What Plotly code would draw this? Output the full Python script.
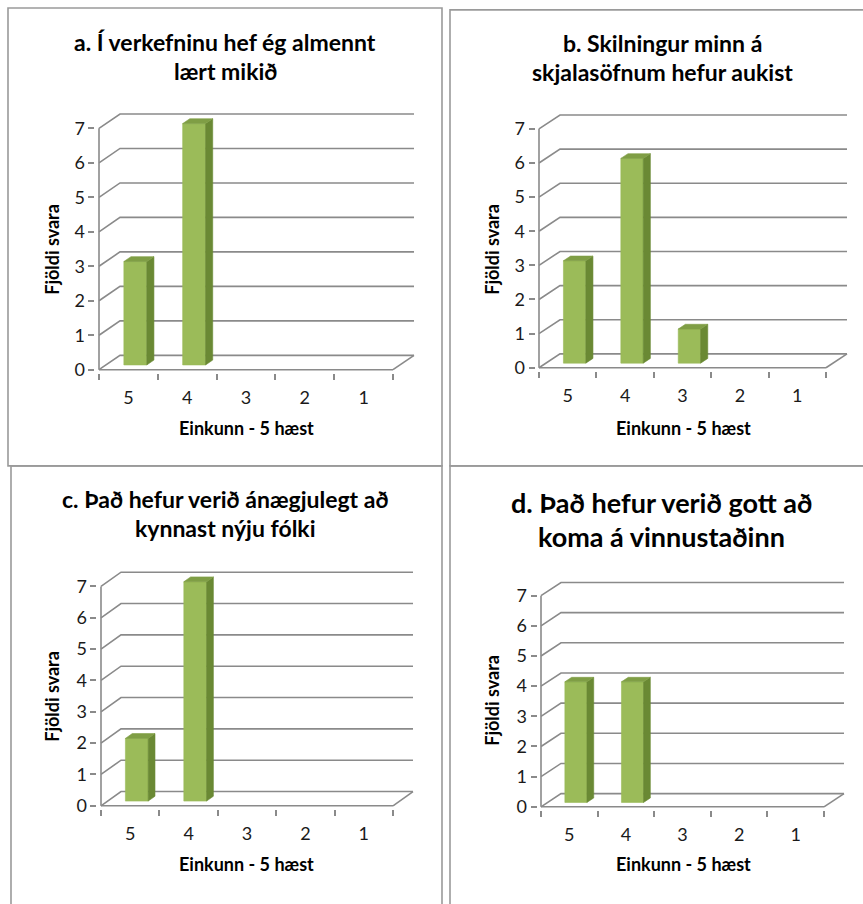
import plotly.graph_objects as go

# ---------------- data ----------------
categories = ["5", "4", "3", "2", "1"]
values_a = [3, 7, 0, 0, 0]
values_b = [3, 6, 1, 0, 0]
values_c = [2, 7, 0, 0, 0]
values_d = [4, 4, 0, 0, 0]
y_ticks = [0, 1, 2, 3, 4, 5, 6, 7]
title_a = ["a. Í verkefninu hef ég almennt", "lært mikið"]
title_b = ["b. Skilningur minn á", "skjalasöfnum hefur aukist"]
title_c = ["c. Það hefur verið ánægjulegt að", "kynnast nýju fólki"]
title_d = ["d. Það hefur verið gott að", "koma á vinnustaðinn"]
x_title = "Einkunn - 5 hæst"
y_title = "Fjöldi svara"

# ---------------- styling / layout geometry ----------------
W, H = 863, 904
FONT = "Lato"
GRID = "#8a8a8a"
FRONT = "#9BBB59"
SIDE = "#6A8934"
TOP = "#7F9E45"
BORDER = "#9a9a9a"
TICK_SIZE = 18
AX_TITLE_SIZE = 18

# pixel geometry for each panel's plot (front plane + depth offset)
panels = [
    dict(vals=values_a, title=title_a, tsize=23, x0=99, x5=393, y0=373, y7=129.5, dpx=21, dpy=14.5,
         tx=225, ty=(42, 72), ytx=52, yty=252, xtx=246, xty=432, box=(8, 8, 442, 470)),
    dict(vals=values_b, title=title_b, tsize=23, x0=539, x5=826, y0=371, y7=130, dpx=21, dpy=14,
         tx=662, ty=(43, 73), ytx=492, yty=252, xtx=683, xty=432, box=(450, 10, 880, 470)),
    dict(vals=values_c, title=title_c, tsize=23, x0=101, x5=393, y0=813, y7=591.7, dpx=20, dpy=14.4,
         tx=225, ty=(503, 533), ytx=52, yty=703, xtx=246, xty=872, box=(11, 470, 442, 920)),
    dict(vals=values_d, title=title_d, tsize=27, x0=541, x5=824, y0=814, y7=601, dpx=20, dpy=13.3,
         tx=661, ty=(507, 541), ytx=492, yty=707, xtx=683, xty=872, box=(450, 470, 880, 920)),
]

BAR_W = 0.39         # fraction of category width
F1, F2 = 0.33, 0.67  # depth fractions of bar front/back
PAD = 0.06

fig = go.Figure()
layout_axes = {}
annotations = []
shapes = []

ncat = len(categories)
ymax = max(y_ticks)

for k, p in enumerate(panels, start=1):
    xs = "" if k == 1 else str(k)
    xref, yref = "x" + xs, "y" + xs
    ux = (p["x5"] - p["x0"]) / ncat
    uy = (p["y0"] - p["y7"]) / ymax
    dx = p["dpx"] / ux
    dy = p["dpy"] / uy

    xr = [-PAD, ncat + dx + PAD]
    yr = [-PAD * 1.5, ymax + dy + PAD * 1.5]
    xdom = [(p["x0"] + xr[0] * ux) / W, (p["x0"] + xr[1] * ux) / W]
    ydom = [1 - (p["y0"] - yr[0] * uy) / H, 1 - (p["y0"] - yr[1] * uy) / H]

    # back wall gridlines + left-wall diagonals
    gx, gy = [], []
    for v in y_ticks:
        gx += [0, dx, ncat + dx, None]
        gy += [v, v + dy, v + dy, None]
    # floor right edge
    gx += [ncat, ncat + dx, None]
    gy += [0, dy, None]
    fig.add_trace(go.Scatter(x=gx, y=gy, mode="lines", line=dict(color=GRID, width=1.6),
                             xaxis=xref, yaxis=yref, hoverinfo="skip", showlegend=False))

    # bars (3D look)
    for i, v in enumerate(p["vals"]):
        if v <= 0:
            continue
        bl = i + 0.5 - BAR_W / 2
        br = i + 0.5 + BAR_W / 2
        s1x, s1y = F1 * dx, F1 * dy
        s2x, s2y = F2 * dx, F2 * dy
        faces = [
            (FRONT, [bl + s1x, br + s1x, br + s1x, bl + s1x, bl + s1x],
                    [s1y, s1y, v + s1y, v + s1y, s1y]),
            (SIDE, [br + s1x, br + s2x, br + s2x, br + s1x, br + s1x],
                   [s1y, s2y, v + s2y, v + s1y, s1y]),
            (TOP, [bl + s1x, br + s1x, br + s2x, bl + s2x, bl + s1x],
                  [v + s1y, v + s1y, v + s2y, v + s2y, v + s1y]),
        ]
        for col, fx, fy in faces:
            fig.add_trace(go.Scatter(x=fx, y=fy, mode="lines", fill="toself", fillcolor=col,
                                     line=dict(color=col, width=0.6),
                                     xaxis=xref, yaxis=yref, hoverinfo="skip", showlegend=False))

    # front axis lines
    fig.add_trace(go.Scatter(x=[0, 0, None, 0, ncat], y=[0, ymax, None, 0, 0], mode="lines",
                             line=dict(color=GRID, width=1.6),
                             xaxis=xref, yaxis=yref, hoverinfo="skip", showlegend=False))

    layout_axes["xaxis" + xs] = dict(
        domain=xdom, range=xr, anchor=yref, showgrid=False, zeroline=False, showline=False,
        tickmode="array", tickvals=[i + 0.5 for i in range(ncat)], ticktext=categories,
        ticks="", tickfont=dict(family=FONT, size=TICK_SIZE, color="#1a1a1a"), ticklabelstandoff=12,
        minor=dict(tickmode="array", tickvals=list(range(ncat + 1)), ticks="outside",
                   ticklen=6, tickwidth=1.6, tickcolor=GRID, showgrid=False),
        fixedrange=True,
    )
    layout_axes["yaxis" + xs] = dict(
        domain=ydom, range=yr, anchor=xref, showgrid=False, zeroline=False, showline=False,
        tickmode="array", tickvals=y_ticks, ticks="outside", ticklen=6, tickwidth=1.6,
        tickcolor=GRID, tickfont=dict(family=FONT, size=TICK_SIZE, color="#1a1a1a"),
        fixedrange=True,
    )

    # titles
    for line, ty in zip(p["title"], p["ty"]):
        annotations.append(dict(text="<b>%s</b>" % line, x=p["tx"] / W, y=1 - ty / H,
                                xref="paper", yref="paper", showarrow=False,
                                xanchor="center", yanchor="middle",
                                font=dict(family=FONT, size=p["tsize"], color="#000")))
    annotations.append(dict(text="<b>%s</b>" % y_title, x=p["ytx"] / W, y=1 - p["yty"] / H,
                            xref="paper", yref="paper", showarrow=False, textangle=-90,
                            xanchor="center", yanchor="middle",
                            font=dict(family=FONT, size=AX_TITLE_SIZE, color="#000")))
    annotations.append(dict(text="<b>%s</b>" % x_title, x=p["xtx"] / W, y=1 - p["xty"] / H,
                            xref="paper", yref="paper", showarrow=False,
                            xanchor="center", yanchor="middle",
                            font=dict(family=FONT, size=AX_TITLE_SIZE, color="#000")))

    bx0, by0, bx1, by1 = p["box"]
    shapes.append(dict(type="rect", xref="paper", yref="paper",
                       x0=bx0 / W, x1=bx1 / W, y0=1 - by1 / H, y1=1 - by0 / H,
                       line=dict(color=BORDER, width=1.6), fillcolor="rgba(0,0,0,0)", layer="below"))

fig.update_layout(
    width=W, height=H, autosize=False,
    margin=dict(l=0, r=0, t=0, b=0),
    paper_bgcolor="white", plot_bgcolor="rgba(0,0,0,0)",
    showlegend=False, hovermode=False,
    annotations=annotations, shapes=shapes,
    font=dict(family=FONT),
    **layout_axes,
)

post = "document.body.style.margin='0';document.body.style.padding='0';"
fig.write_html("out.html", config={"displayModeBar": False}, post_script=post)
